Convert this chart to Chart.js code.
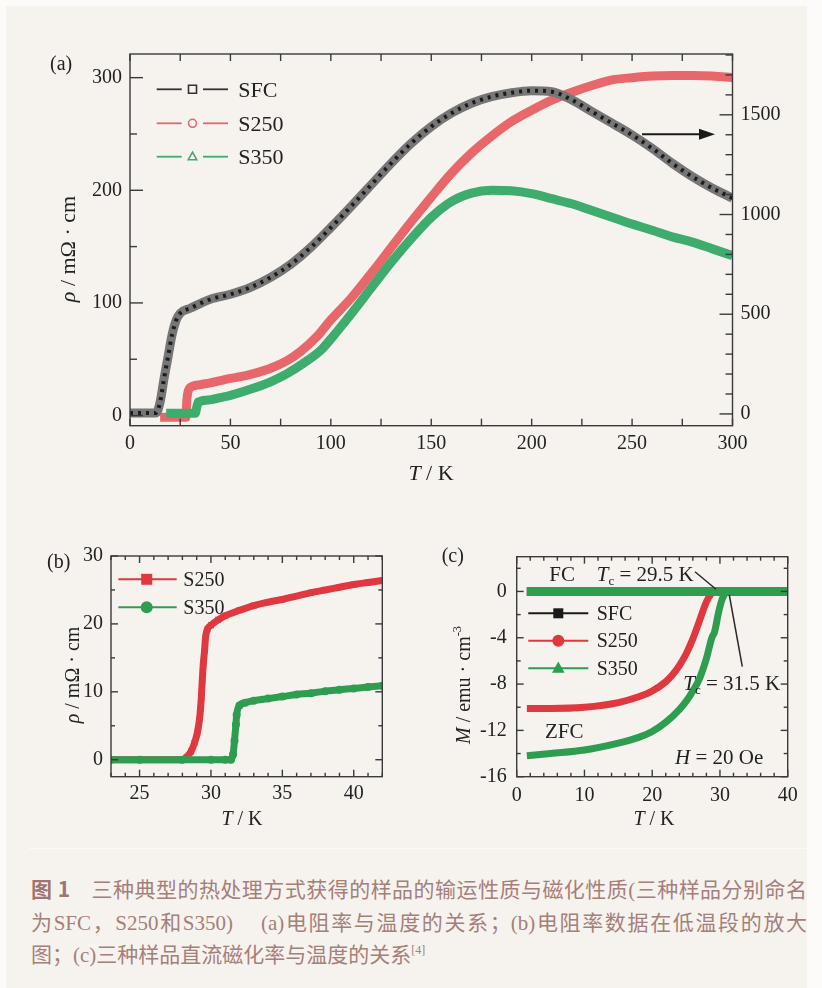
<!DOCTYPE html>
<html>
<head>
<meta charset="utf-8">
<script src="https://cdn.jsdelivr.net/npm/chart.js@4.4.0/dist/chart.umd.min.js"></script>
<style>
html, body { margin: 0; padding: 0; background: #fcfbfa; }
#page { position: relative; width: 822px; height: 988px; overflow: hidden; }
#panel { position: absolute; left: 6px; top: 6px; width: 801px; height: 982px; background: #f6f3ef; }
#rule { position: absolute; left: 29px; top: 848px; width: 778px; height: 1px; background: #fbfaf7; }
canvas { position: absolute; }
#ca { left: 0; top: 0; }
#cb { left: 0; top: 520px; }
#cc { left: 411px; top: 520px; }
#cap { position: absolute; left: 31px; top: 872px; width: 776px; color: #a57f79;
       font-family: "Liberation Serif", "Noto Sans CJK SC", serif; font-size: 21px; }
.ln { height: 32.7px; line-height: 32.7px; text-align: justify; text-align-last: justify; }
.l3 { text-align: left; text-align-last: left; }
.cn { font-family: "Noto Sans CJK SC", sans-serif; }
b { font-family: "Noto Sans CJK SC", sans-serif; color: #a0756f; }
sup { font-size: 12px; vertical-align: 8px; line-height: 0; }
</style>
</head>
<body>
<div id="page">
  <div id="panel"></div>
  <div id="rule"></div>
  <canvas id="ca" width="822" height="500"></canvas>
  <canvas id="cb" width="411" height="320"></canvas>
  <canvas id="cc" width="411" height="320"></canvas>
  <div id="cap">
    <div class="ln"><b>图 1</b>&emsp;<span class="cn">三种典型的热处理方式获得的样品的输运性质与磁化性质</span>(<span class="cn">三种样品分别命名</span></div>
    <div class="ln"><span class="cn">为</span>SFC<span class="cn">，</span>S250<span class="cn">和</span>S350)&emsp; (a)<span class="cn">电阻率与温度的关系；</span>(b)<span class="cn">电阻率数据在低温段的放大</span></div>
    <div class="ln l3"><span class="cn">图；</span>(c)<span class="cn">三种样品直流磁化率与温度的关系</span><sup>[4]</sup></div>
  </div>
</div>
<script>
// (a) 电阻率与温度, 0-300 K
const sfcT = [0, 5, 10, 13, 15, 17, 19, 21, 23, 25, 30, 40, 50, 60, 70, 80, 90, 100, 110, 120, 130, 140, 150, 160, 170, 180, 190, 200, 210, 220, 230, 240, 250, 260, 270, 280, 290, 300];
const sfcRho = [5, 5, 5, 5, 60, 180, 290, 400, 470, 505, 530, 575, 600, 635, 685, 750, 835, 935, 1040, 1148, 1257, 1357, 1441, 1508, 1558, 1591, 1611, 1621, 1616, 1575, 1516, 1458, 1399, 1332, 1257, 1190, 1132, 1082];
const s250T = [15, 20, 25, 27.8, 28.3, 29, 30, 35, 40, 45, 50, 55, 61, 70, 78, 85, 93, 100, 110, 120, 130, 140, 150, 160, 170, 180, 190, 200, 210, 220, 230, 240, 250, 260, 270, 280, 290, 300];
const s250Rho = [-1.5, -1.5, -1.5, -1.5, 14, 22, 25, 27.5, 29, 31, 33, 34.5, 37, 42, 48.5, 57, 70, 85, 104, 126, 149, 172, 194, 215, 233, 248, 261, 271, 280, 287, 293, 298, 300, 301.5, 302, 302, 301.5, 300];
const s350T = [18, 25, 32.5, 33.3, 34, 40, 45, 50, 61, 70, 78, 86, 95, 100, 110, 120, 130, 140, 150, 160, 170, 180, 190, 200, 210, 220, 230, 240, 250, 260, 270, 280, 290, 300];
const s350Rho = [2, 2, 2, 8, 12, 14, 16, 18, 24, 30, 37, 46, 58, 68, 90, 113, 136, 157, 176, 190, 197.5, 200, 199.5, 197, 192.6, 188, 182, 176, 170, 164.5, 158.6, 154, 148, 142];
const aXTicks = [0, 50, 100, 150, 200, 250, 300];
const aYTicks = [0, 100, 200, 300];
const aY2Ticks = [0, 500, 1000, 1500];

// (b) 低温段放大
const s250bT = [23, 25, 27, 28, 28.3, 28.6, 28.85, 29.05, 29.2, 29.27, 29.32, 29.4, 29.47, 29.55, 29.62, 29.75, 30, 30.5, 31, 32, 33, 34, 35, 36, 37, 38, 39, 40, 41, 42];
const s250bRho = [0, 0, 0, 0, 0.4, 1.2, 2.5, 4, 6, 7.5, 9, 12, 14.3, 16, 18, 19.2, 19.8, 20.6, 21.2, 22, 22.7, 23.2, 23.6, 24.1, 24.6, 25.0, 25.4, 25.8, 26.1, 26.4];
const s350bT = [23, 25, 28, 30, 31, 31.4, 31.55, 31.65, 31.75, 31.8, 32, 32.4, 33, 34, 35, 36, 37, 38, 39, 40, 41, 42];
const s350bRho = [0, 0, 0, 0, 0, 0, 0.8, 2.8, 5.2, 6.6, 8.0, 8.4, 8.7, 9.0, 9.3, 9.6, 9.8, 10.1, 10.3, 10.5, 10.7, 10.9];
const bXTicks = [25, 30, 35, 40];
const bYTicks = [0, 10, 20, 30];

// (c) 磁化率 ZFC / FC
const fcT = [1.5, 10, 20, 30, 40];
const sfcFcM = [0, 0, 0, 0, 0];
const s250FcM = [0, 0, 0, 0, 0];
const s350FcM = [0, 0, 0, 0, 0];
const s250ZT = [1.5, 5, 10, 15, 18, 20, 22, 23, 24, 25, 26, 27, 28, 28.7, 29.2];
const s250ZM = [-10.1, -10.1, -10.0, -9.6, -9.1, -8.6, -7.8, -7.2, -6.4, -5.4, -4.1, -2.5, -0.9, -0.2, 0];
const s350ZT = [1.5, 5, 10, 15, 18, 20, 22, 24, 25, 26, 27, 28, 28.8, 29.2, 29.8, 30.3, 30.9];
const s350ZM = [-14.2, -14.0, -13.7, -13.1, -12.6, -12.1, -11.3, -10.2, -9.5, -8.6, -7.5, -5.8, -4.0, -3.5, -1.8, -0.7, 0];
const cXTicks = [0, 10, 20, 30, 40];
const cYTicks = [-16, -12, -8, -4, 0];

const SERIF = '"Liberation Serif", "Times New Roman", serif';
const INK = '#222';

function pts(xs, ys) {
  return xs.map((x, i) => ({ x: x, y: ys[i] }));
}

function band(xs, ys, color, width, extra) {
  return Object.assign({
    data: pts(xs, ys), showLine: true, borderColor: color, backgroundColor: color,
    borderWidth: width, pointRadius: 0, cubicInterpolationMode: 'monotone',
    borderCapStyle: 'butt', clip: 0
  }, extra || {});
}

function axis(pos, min, max, list, size, pad, font) {
  const horiz = pos === 'bottom';
  return {
    type: 'linear', position: pos, min: min, max: max,
    afterBuildTicks: s => { s.ticks = list.map(v => ({ value: v })); },
    afterFit: s => { if (horiz) s.height = size; else s.width = size; },
    ticks: {
      font: { family: SERIF, size: font || 20 }, color: INK, padding: pad,
      autoSkip: false, maxRotation: 0, callback: v => String(v)
    },
    grid: { display: false, drawTicks: false },
    border: { display: false }
  };
}

// text with italic / sub / sup pieces: parts = [[text, style], ...]
function rich(ctx, parts, x, y, size, align, rot) {
  const fontOf = p => {
    const small = p[1] === 'sub' || p[1] === 'sup';
    return (p[1] === 'i' ? 'italic ' : '') + (small ? size * 0.62 : size) + 'px ' + SERIF;
  };
  let w = 0;
  const ws = parts.map(p => { ctx.font = fontOf(p); const m = ctx.measureText(p[0]).width; w += m; return m; });
  ctx.save();
  ctx.translate(x, y);
  if (rot) ctx.rotate(-Math.PI / 2);
  ctx.fillStyle = INK;
  ctx.textBaseline = 'alphabetic';
  ctx.textAlign = 'left';
  let cx = align === 'center' ? -w / 2 : 0;
  parts.forEach((p, i) => {
    ctx.font = fontOf(p);
    let dy = size * 0.33;
    if (p[1] === 'sub') dy += size * 0.2;
    if (p[1] === 'sup') dy -= size * 0.42;
    ctx.fillText(p[0], cx, dy);
    cx += ws[i];
  });
  ctx.restore();
}

function mark(ctx, kind, x, y, r, color, filled) {
  ctx.beginPath();
  if (kind === 'rect') ctx.rect(x - r, y - r, 2 * r, 2 * r);
  else if (kind === 'circle') ctx.arc(x, y, r, 0, Math.PI * 2);
  else { ctx.moveTo(x, y - r * 1.15); ctx.lineTo(x + r * 1.05, y + r * 0.75); ctx.lineTo(x - r * 1.05, y + r * 0.75); ctx.closePath(); }
  if (filled) { ctx.fillStyle = color; ctx.fill(); }
  else { ctx.strokeStyle = color; ctx.lineWidth = 1.6; ctx.stroke(); }
}

function seg(ctx, x0, y0, x1, y1) {
  ctx.beginPath(); ctx.moveTo(x0, y0); ctx.lineTo(x1, y1); ctx.stroke();
}

function near(v, step) {
  return Math.abs(v / step - Math.round(v / step)) < 1e-6;
}

// frame and inward ticks on all four sides
function drawFrame(chart, sp) {
  const ctx = chart.ctx, a = chart.chartArea;
  const sx = chart.scales.x, sy = chart.scales.y, sy2 = chart.scales.y2;
  ctx.save();
  ctx.strokeStyle = '#3a3a3a';
  ctx.lineWidth = 1.4;
  ctx.strokeRect(a.left, a.top, a.right - a.left, a.bottom - a.top);
  for (let v = sp.x[0]; v <= sp.x[1] + 1e-9; v += sp.x[2]) {
    const p = sx.getPixelForValue(v);
    const L = near(v, sp.x[3]) ? sp.xLen[0] : sp.xLen[1];
    seg(ctx, p, a.bottom, p, a.bottom - L);
    seg(ctx, p, a.top, p, a.top + L);
  }
  for (let v = sp.y[0]; v <= sp.y[1] + 1e-9; v += sp.y[2]) {
    const p = sy.getPixelForValue(v);
    const L = near(v, sp.y[3]) ? sp.yLen[0] : sp.yLen[1];
    seg(ctx, a.left, p, a.left + L, p);
    if (!sy2) seg(ctx, a.right, p, a.right - L, p);
  }
  if (sy2) {
    for (let v = sp.y2[0]; v <= sp.y2[1] + 1e-9; v += sp.y2[2]) {
      const p = sy2.getPixelForValue(v);
      const L = near(v, sp.y2[3]) ? sp.yLen[0] : sp.yLen[1];
      seg(ctx, a.right, p, a.right - L, p);
    }
  }
  ctx.restore();
}

function baseOptions(pad, scales) {
  return {
    responsive: false, animation: false, devicePixelRatio: 1,
    layout: { padding: pad },
    plugins: { legend: { display: false }, tooltip: { enabled: false } },
    scales: scales
  };
}

const red = '#e0383f', green = '#2e9d50';
const redA = '#e8676b', greenA = '#3dac6c';

// ---------- (a)
new Chart(document.getElementById('ca'), {
  type: 'scatter',
  data: {
    datasets: [
      band(sfcT, sfcRho, '#1c1c1c', 4, { yAxisID: 'y2', borderDash: [3, 5] }),
      band(sfcT, sfcRho, '#767676', 9, { yAxisID: 'y2' }),
      band(s350T, s350Rho, greenA, 9, { yAxisID: 'y' }),
      band(s250T, s250Rho, redA, 9, { yAxisID: 'y' })
    ]
  },
  options: baseOptions({ top: 54, left: 0, right: 0, bottom: 0 }, {
    x: axis('bottom', 0, 300, aXTicks, 74.3, 6),
    y: axis('left', -9, 321, aYTicks, 130, 8),
    y2: axis('right', -59, 1805, aY2Ticks, 89.5, 8)
  }),
  plugins: [{
    id: 'deco',
    afterDatasetsDraw(chart) {
      const ctx = chart.ctx;
      drawFrame(chart, { x: [0, 300, 25, 50], xLen: [7, 7], y: [0, 300, 50, 100], y2: [0, 1800, 100, 500], yLen: [13, 7] });
      rich(ctx, [['(a)', '']], 50, 63, 20, 'left');
      rich(ctx, [['T', 'i'], [' / K', '']], 431, 473, 22, 'center');
      rich(ctx, [['ρ', 'i'], [' / mΩ · cm', '']], 68, 249, 22, 'center', true);
      const rows = [['SFC', '#333', '#333', 'rect'], ['S250', redA, redA, 'circle'], ['S350', greenA, greenA, 'tri']];
      const ry = [89.3, 123.3, 156.7];
      rows.forEach((r, i) => {
        ctx.save();
        ctx.strokeStyle = r[1]; ctx.lineWidth = 1.8;
        seg(ctx, 156.7, ry[i], 181.7, ry[i]);
        seg(ctx, 203, ry[i], 228, ry[i]);
        mark(ctx, r[3], 192.5, ry[i], 4, r[2], false);
        ctx.restore();
        rich(ctx, [[r[0], '']], 238.3, ry[i], 22, 'left');
      });
      // arrow to the right axis
      ctx.save();
      ctx.strokeStyle = '#1a1a1a'; ctx.fillStyle = '#1a1a1a'; ctx.lineWidth = 2;
      seg(ctx, 642, 134.3, 702, 134.3);
      ctx.beginPath(); ctx.moveTo(715, 134.3); ctx.lineTo(699, 128.8); ctx.lineTo(699, 139.8); ctx.closePath(); ctx.fill();
      ctx.restore();
    }
  }]
});

// ---------- (b)
new Chart(document.getElementById('cb'), {
  type: 'scatter',
  data: {
    datasets: [
      band(s350bT, s350bRho, green, 7, { pointRadius: 4, pointStyle: 'circle', pointBorderWidth: 0 }),
      band(s250bT, s250bRho, red, 7, { pointRadius: 4.2, pointStyle: 'rect', pointBorderWidth: 0 })
    ]
  },
  options: baseOptions({ top: 36, left: 0, right: 28.7, bottom: 0 }, {
    x: axis('bottom', 23, 42, bXTicks, 63.3, 5),
    y: axis('left', -2.5, 30, bYTicks, 111, 8)
  }),
  plugins: [{
    id: 'deco',
    afterDatasetsDraw(chart) {
      const ctx = chart.ctx;
      drawFrame(chart, { x: [23, 42, 1, 5], xLen: [7, 4], y: [0, 30, 5, 10], yLen: [7, 4] });
      rich(ctx, [['(b)', '']], 47, 41.7, 20, 'left');
      rich(ctx, [['T', 'i'], [' / K', '']], 242, 298, 20, 'center');
      rich(ctx, [['ρ', 'i'], [' / mΩ · cm', '']], 72, 155, 20, 'center', true);
      const rows = [['S250', red, 'rect', 5.5], ['S350', green, 'circle', 6]];
      const ry = [59.3, 87.3];
      rows.forEach((r, i) => {
        ctx.save();
        ctx.strokeStyle = r[1]; ctx.lineWidth = 2;
        seg(ctx, 118.3, ry[i], 176.7, ry[i]);
        mark(ctx, r[2], 146.7, ry[i], r[3], r[1], true);
        ctx.restore();
        rich(ctx, [[r[0], '']], 183.3, ry[i], 20, 'left');
      });
    }
  }]
});

// ---------- (c)
new Chart(document.getElementById('cc'), {
  type: 'scatter',
  data: {
    datasets: [
      band(fcT, s350FcM, green, 9),
      band(s350ZT, s350ZM, green, 7),
      band(s250ZT, s250ZM, red, 7),
      band(fcT, s250FcM, red, 9),
      band(fcT, sfcFcM, '#1a1a1a', 9)
    ]
  },
  options: baseOptions({ top: 36.7, left: 0, right: 34.3, bottom: 0 }, {
    x: axis('bottom', 0, 40, cXTicks, 63.3, 7),
    y: axis('left', -16, 3, cYTicks, 105.7, 10)
  }),
  plugins: [{
    id: 'deco',
    afterDatasetsDraw(chart) {
      const ctx = chart.ctx;
      drawFrame(chart, { x: [0, 40, 2, 10], xLen: [7, 4], y: [-16, 2, 2, 4], yLen: [7, 4] });
      rich(ctx, [['(c)', '']], 30.7, 35, 20, 'left');
      rich(ctx, [['T', 'i'], [' / K', '']], 243, 298, 20, 'center');
      rich(ctx, [['M', 'i'], [' / emu · cm', ''], ['-3', 'sup']], 52, 165, 20, 'center', true);
      const rows = [['SFC', '#1a1a1a', 'rect', 5], ['S250', red, 'circle', 6], ['S350', green, 'tri', 6]];
      const ry = [93.3, 120.7, 148.3];
      rows.forEach((r, i) => {
        ctx.save();
        ctx.strokeStyle = r[1]; ctx.lineWidth = 2;
        seg(ctx, 117.3, ry[i], 177.3, ry[i]);
        mark(ctx, r[2], 147.3, ry[i], r[3], r[1], true);
        ctx.restore();
        rich(ctx, [[r[0], '']], 185.7, ry[i], 20, 'left');
      });
      rich(ctx, [['FC', '']], 138.3, 54, 21, 'left');
      rich(ctx, [['T', 'i'], ['c', 'sub'], [' = 29.5 K', '']], 185.7, 54, 21, 'left');
      rich(ctx, [['T', 'i'], ['c', 'sub'], [' = 31.5 K', '']], 272.3, 163.3, 21, 'left');
      rich(ctx, [['ZFC', '']], 134, 210.7, 21, 'left');
      rich(ctx, [['H', 'i'], [' = 20 Oe', '']], 264, 236.7, 21, 'left');
      ctx.save();
      ctx.strokeStyle = '#2a2a2a'; ctx.lineWidth = 1.5;
      seg(ctx, 284, 51.7, 305, 69.3);
      seg(ctx, 318.3, 75, 331.3, 146.7);
      ctx.restore();
    }
  }]
});
</script>
</body>
</html>
